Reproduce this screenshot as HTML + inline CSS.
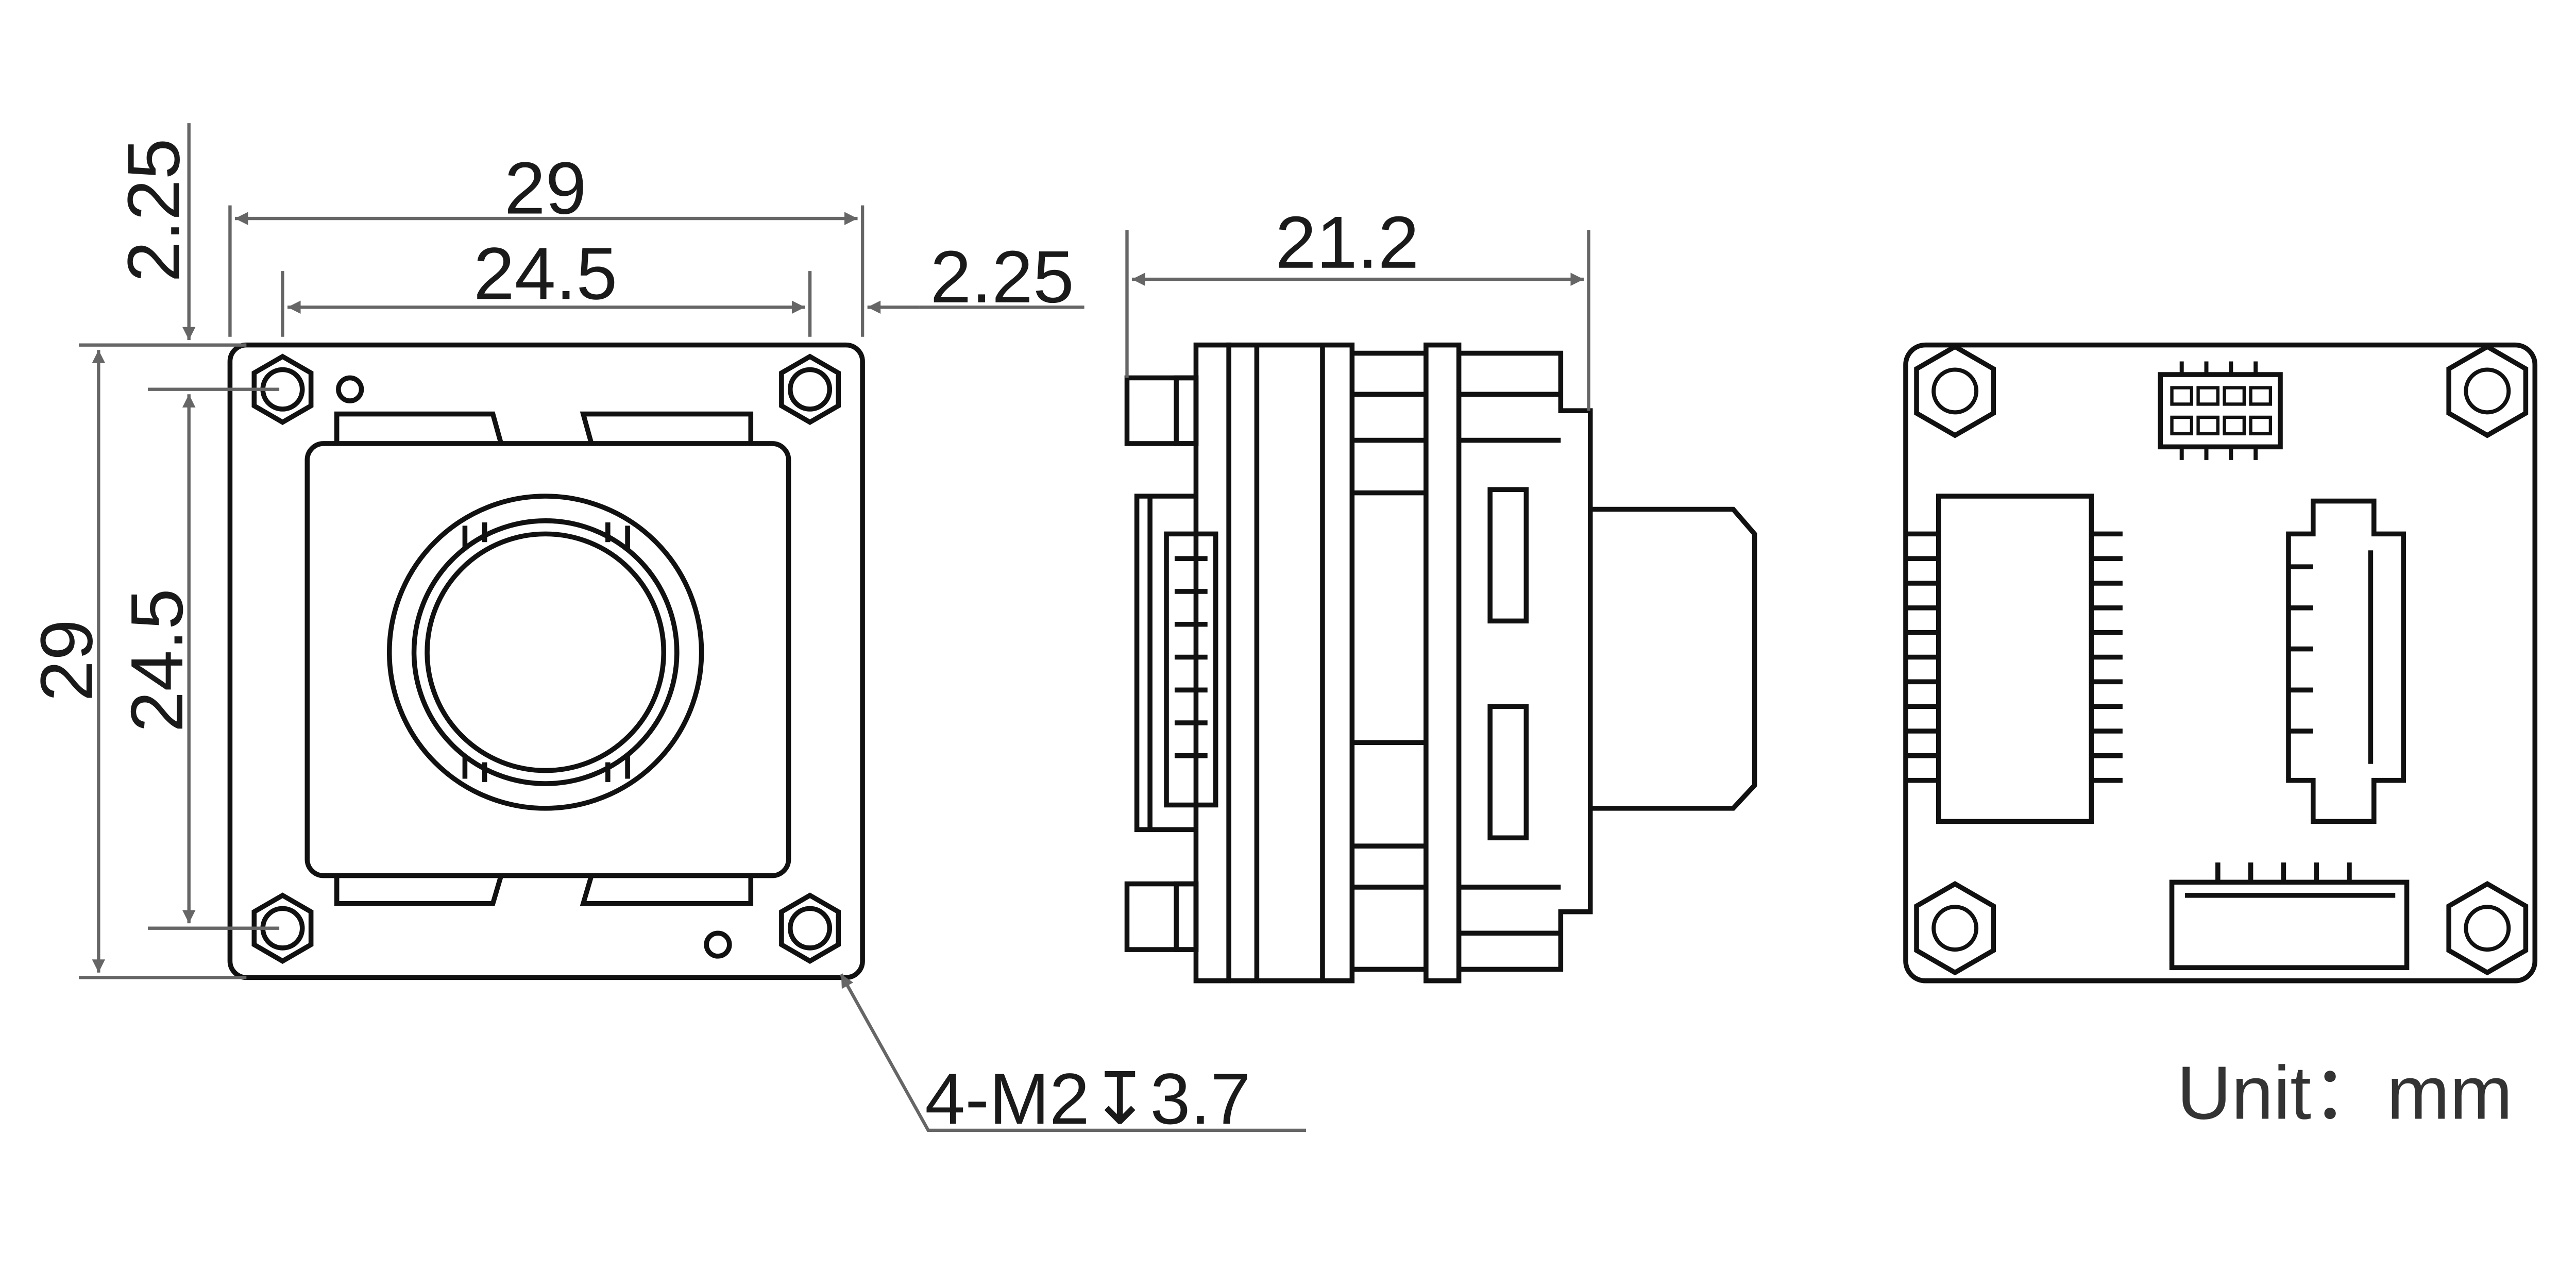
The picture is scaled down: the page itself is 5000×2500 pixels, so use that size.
<!DOCTYPE html>
<html><head><meta charset="utf-8"><style>
html,body{margin:0;padding:0;background:#fff;width:5000px;height:2500px;overflow:hidden}
svg{display:block}
text{font-family:"Liberation Sans",sans-serif;fill:#1a1a1a}
</style></head><body>
<svg width="5000" height="2500" viewBox="0 0 1568 784" preserveAspectRatio="none" xmlns="http://www.w3.org/2000/svg">
<defs>
<marker id="a" viewBox="0 0 10 10" refX="10" refY="5" markerWidth="22" markerHeight="8" markerUnits="userSpaceOnUse" orient="auto-start-reverse"><path d="M0,0L10,5L0,10z" fill="#666"/></marker>
<g id="hex"><polygon points="20,0 10,17.3 -10,17.3 -20,0 -10,-17.3 10,-17.3" transform="rotate(90)" fill="none" stroke="#111" stroke-width="3"/><circle r="12" fill="none" stroke="#111" stroke-width="3"/></g>
<g id="hex2"><polygon points="27,0 13.5,23.4 -13.5,23.4 -27,0 -13.5,-23.4 13.5,-23.4" transform="rotate(90)" fill="none" stroke="#111" stroke-width="3"/><circle r="13" fill="none" stroke="#111" stroke-width="2.5"/></g>
</defs>
<g fill="none" stroke="#111" stroke-width="3">
<rect x="140" y="210" width="385" height="385" rx="10"/>
<use href="#hex" x="172" y="237"/><use href="#hex" x="493" y="237"/><use href="#hex" x="172" y="565"/><use href="#hex" x="493" y="565"/>
<circle cx="213" cy="237" r="7"/><circle cx="437" cy="575" r="7"/>
<path d="M205,270V252H300L305,270M360,270L355,252H457V270"/>
<path d="M205,533V550H300L305,533M360,533L355,550H457V533"/>
<rect x="187" y="270" width="293" height="263" rx="10"/>
<circle cx="332" cy="397" r="95"/><circle cx="332" cy="397" r="80"/><circle cx="332" cy="397" r="72"/>
<path d="M283,320V335M295,318V330M370,318V330M382,320V335M283,474V460M295,476V464M370,476V464M382,474V460"/>
<rect x="728" y="210" width="20" height="387"/>
<rect x="748" y="210" width="75" height="387"/>
<path d="M765,210V597M805,210V597"/>
<rect x="868" y="210" width="20" height="387"/>
<path d="M823,215H868M823,240H868M823,268H868M823,300H868M823,452H868M823,515H868M823,540H868M823,590H868"/>
<path d="M888,215H950V250H968V555H950V590H888M888,240H950M888,268H950M888,540H950M888,568H950"/>
<rect x="907" y="298" width="22" height="80"/><rect x="907" y="430" width="22" height="80"/>
<path d="M968,310H1055L1068,325V478L1055,492H968"/>
<path d="M728,302H692V505H728M700,302V505M710,325H740V490H710z"/>
<path d="M715,340H735M715,360H735M715,380H735M715,400H735M715,420H735M715,440H735M715,460H735"/>
<rect x="686" y="230" width="42" height="40"/><rect x="686" y="538" width="42" height="40"/>
<rect x="716" y="230" width="12" height="40"/><rect x="716" y="538" width="12" height="40"/>
<rect x="1160" y="210" width="383" height="387" rx="12"/>
<use href="#hex2" x="1190" y="238"/><use href="#hex2" x="1514" y="238"/><use href="#hex2" x="1190" y="565"/><use href="#hex2" x="1514" y="565"/>
<rect x="1315" y="228" width="73" height="44"/>
<path d="M1328,220V228M1343,220V228M1358,220V228M1373,220V228M1328,272V280M1343,272V280M1358,272V280M1373,272V280" stroke-width="2.5"/>
<g stroke-width="2"><rect x="1322" y="236" width="12" height="10"/><rect x="1338" y="236" width="12" height="10"/><rect x="1354" y="236" width="12" height="10"/><rect x="1370" y="236" width="12" height="10"/><rect x="1322" y="254" width="12" height="10"/><rect x="1338" y="254" width="12" height="10"/><rect x="1354" y="254" width="12" height="10"/><rect x="1370" y="254" width="12" height="10"/></g>
<rect x="1180" y="302" width="93" height="198"/>
<path d="M1160,325H1180M1160,340H1180M1160,355H1180M1160,370H1180M1160,385H1180M1160,400H1180M1160,415H1180M1160,430H1180M1160,445H1180M1160,460H1180M1160,475H1180M1273,325H1292M1273,340H1292M1273,355H1292M1273,370H1292M1273,385H1292M1273,400H1292M1273,415H1292M1273,430H1292M1273,445H1292M1273,460H1292M1273,475H1292"/>
<path d="M1408,305H1445V325H1463V475H1445V500H1408V475H1393V325H1408z"/>
<path d="M1443,335V465M1393,345H1408M1393,370H1408M1393,395H1408M1393,420H1408M1393,445H1408"/>
<rect x="1322" y="537" width="143" height="52"/>
<path d="M1330,545H1458M1350,525V537M1370,525V537M1390,525V537M1410,525V537M1430,525V537"/>
</g>
<g stroke="#666" stroke-width="2" fill="none">
<path d="M140,125V205M525,125V205M172,165V205M493,165V205"/>
<path d="M143,133H522" marker-start="url(#a)" marker-end="url(#a)"/>
<path d="M175,187H490" marker-start="url(#a)" marker-end="url(#a)"/>
<path d="M560,187H528" marker-end="url(#a)"/><path d="M660,187H560"/>
<path d="M48,210H150M48,595H150M90,237H170M90,565H170"/>
<path d="M60,213V592" marker-start="url(#a)" marker-end="url(#a)"/>
<path d="M115,240V562" marker-start="url(#a)" marker-end="url(#a)"/>
<path d="M115,75V207" marker-end="url(#a)"/>
<path d="M686,140V230M967,140V250"/>
<path d="M689,170H964" marker-start="url(#a)" marker-end="url(#a)"/>
<path d="M795,688H565L512,593" marker-end="url(#a)"/>
</g>
<g font-size="45">
<text x="332" y="130" text-anchor="middle">29</text>
<text x="332" y="182" text-anchor="middle">24.5</text>
<text x="610" y="184" text-anchor="middle">2.25</text>
<text x="820" y="163" text-anchor="middle">21.2</text>
<text transform="translate(109,128) rotate(-90)" text-anchor="middle">2.25</text>
<text transform="translate(56,402) rotate(-90)" text-anchor="middle">29</text>
<text transform="translate(111,402) rotate(-90)" text-anchor="middle">24.5</text>
<text x="563" y="684" font-size="44">4-M2↧3.7</text>
<text x="1325" y="681" font-size="46" style="fill:#333">Unit：mm</text>
</g>
</svg>
</body></html>
